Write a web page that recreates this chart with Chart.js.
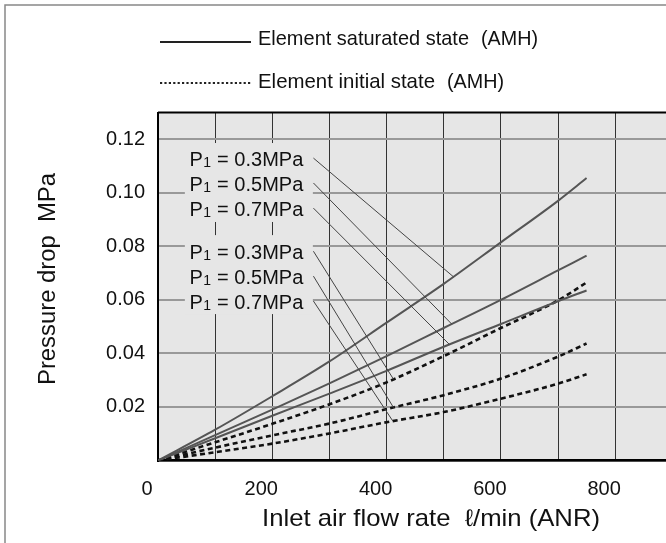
<!DOCTYPE html>
<html lang="en">
<head>
    <meta charset="UTF-8">
    <title>Pressure drop vs inlet air flow rate</title>
    <script src="https://cdn.jsdelivr.net/npm/chart.js"></script>
    <style>
        body { margin: 0; background: #fff; }
        #wrap { width: 666px; height: 543px; position: relative; }
    </style>
</head>
<body>
    <div id="wrap"><canvas id="pdChart"></canvas></div>

    <script>
        // flow rate l/min (ANR) and pressure drop MPa
        const flow = [0, 100, 200, 300, 400, 500, 600, 700, 750];
        const satP03 = [0, 0.0115, 0.024, 0.037, 0.0515, 0.066, 0.0815, 0.097, 0.1055];
        const satP05 = [0, 0.0095, 0.019, 0.0288, 0.039, 0.0495, 0.060, 0.071, 0.0765];
        const satP07 = [0, 0.0083, 0.0167, 0.025, 0.0335, 0.0425, 0.051, 0.0595, 0.0635];
        const iniP03 = [0, 0.0068, 0.0137, 0.021, 0.0292, 0.039, 0.0495, 0.0598, 0.0665];
        const iniP05 = [0, 0.0048, 0.0094, 0.0138, 0.0192, 0.0244, 0.0306, 0.0388, 0.0437];
        const iniP07 = [0, 0.0031, 0.0063, 0.0101, 0.0143, 0.0181, 0.0231, 0.0287, 0.0322];
        const pressures = ['0.3', '0.5', '0.7'];
        const xTickLabels = [0, 200, 400, 600, 800];
        const yTickLabels = [0.02, 0.04, 0.06, 0.08, 0.10, 0.12];
        // where each leader line meets its curve (flow value)
        const satLeaderFlow = [517, 514, 510];
        const iniLeaderFlow = [412, 412, 411];

        const FONT = '"Liberation Sans", Arial, Helvetica, sans-serif';

        function valueAt(arr, fx) {
            for (let i = 1; i < flow.length; i++) {
                if (fx <= flow[i]) {
                    const t = (fx - flow[i - 1]) / (flow[i] - flow[i - 1]);
                    return arr[i - 1] + t * (arr[i] - arr[i - 1]);
                }
            }
            return arr[arr.length - 1];
        }

        function pts(arr) {
            return flow.map((x, i) => ({ x: x, y: arr[i] }));
        }

        function series(arr, dashed) {
            return {
                data: pts(arr),
                borderColor: dashed ? '#111' : '#555',
                borderWidth: dashed ? 2.6 : 2,
                borderDash: dashed ? [5, 3.5] : [],
                pointRadius: 0,
                fill: false,
                cubicInterpolationMode: 'monotone'
            };
        }

        // draw text squeezed/stretched to a given width, starting at x
        function fitText(ctx, text, x, y, width) {
            const w = ctx.measureText(text).width;
            ctx.save();
            ctx.translate(x, y);
            ctx.scale(width / w, 1);
            ctx.textAlign = 'left';
            ctx.fillText(text, 0, 0);
            ctx.restore();
        }

        function drawPLabel(ctx, x, y, p) {
            ctx.fillStyle = '#111';
            ctx.textBaseline = 'alphabetic';
            ctx.textAlign = 'left';
            ctx.font = '20px ' + FONT;
            ctx.fillText('P', x, y);
            let w = ctx.measureText('P').width;
            ctx.font = '14px ' + FONT;
            ctx.fillText('1', x + w + 0.5, y + 1);
            w += ctx.measureText('1').width + 1;
            ctx.font = '20px ' + FONT;
            ctx.fillText(' = ' + p + 'MPa', x + w, y);
        }

        const decor = {
            id: 'decor',
            beforeDraw(chart) {
                const { ctx, chartArea: a } = chart;
                ctx.save();
                ctx.fillStyle = '#fff';
                ctx.fillRect(0, 0, chart.width, chart.height);
                ctx.fillStyle = '#e6e6e6';
                ctx.fillRect(a.left, a.top, a.right - a.left, a.bottom - a.top);
                // outer frame
                ctx.strokeStyle = '#888';
                ctx.lineWidth = 1.5;
                ctx.beginPath();
                ctx.moveTo(5, chart.height);
                ctx.lineTo(5, 5);
                ctx.lineTo(chart.width, 5);
                ctx.stroke();
                ctx.restore();
            },
            beforeDatasetsDraw(chart) {
                // boxes behind the pressure labels hide the grid
                const { ctx, scales: { x, y } } = chart;
                ctx.save();
                ctx.fillStyle = '#e6e6e6';
                const x0 = x.getPixelForValue(47), x1 = x.getPixelForValue(271);
                [[0.1186, 0.0891], [0.0842, 0.0547]].forEach(b => {
                    const y0 = y.getPixelForValue(b[0]), y1 = y.getPixelForValue(b[1]);
                    ctx.fillRect(x0, y0, x1 - x0, y1 - y0);
                });
                ctx.restore();
            },
            afterDatasetsDraw(chart) {
                const { ctx, scales: { x, y } } = chart;
                ctx.save();
                // leader lines
                ctx.strokeStyle = '#444';
                ctx.lineWidth = 1;
                const startX = x.getPixelForValue(272);
                const satY = [0.1126, 0.1033, 0.0939];
                const iniY = [0.0778, 0.0685, 0.0592];
                const satArr = [satP03, satP05, satP07];
                const iniArr = [iniP03, iniP05, iniP07];
                for (let i = 0; i < 3; i++) {
                    ctx.beginPath();
                    ctx.moveTo(startX, y.getPixelForValue(satY[i]) - 1);
                    ctx.lineTo(x.getPixelForValue(satLeaderFlow[i]), y.getPixelForValue(valueAt(satArr[i], satLeaderFlow[i])));
                    ctx.stroke();
                    ctx.beginPath();
                    ctx.moveTo(startX, y.getPixelForValue(iniY[i]) - 1);
                    ctx.lineTo(x.getPixelForValue(iniLeaderFlow[i]), y.getPixelForValue(valueAt(iniArr[i], iniLeaderFlow[i])));
                    ctx.stroke();
                }
                // pressure labels
                const lx = x.getPixelForValue(55);
                for (let i = 0; i < 3; i++) {
                    drawPLabel(ctx, lx, y.getPixelForValue(satY[i]) + 7, pressures[i]);
                    drawPLabel(ctx, lx, y.getPixelForValue(iniY[i]) + 7, pressures[i]);
                }
                ctx.restore();
            },
            afterDraw(chart) {
                const { ctx, chartArea: a } = chart;
                ctx.save();
                // top edge of plot
                ctx.strokeStyle = '#000';
                ctx.lineWidth = 2;
                ctx.beginPath();
                ctx.moveTo(a.left, a.top);
                ctx.lineTo(a.right, a.top);
                ctx.stroke();

                // legend
                ctx.strokeStyle = '#222';
                ctx.lineWidth = 2;
                ctx.beginPath();
                ctx.moveTo(160, 42);
                ctx.lineTo(251, 42);
                ctx.stroke();
                ctx.setLineDash([2.2, 2.2]);
                ctx.beginPath();
                ctx.moveTo(160, 83);
                ctx.lineTo(251, 83);
                ctx.stroke();
                ctx.setLineDash([]);
                ctx.fillStyle = '#111';
                ctx.font = '21px ' + FONT;
                ctx.textBaseline = 'middle';
                fitText(ctx, 'Element saturated state', 258, 39, 211);
                fitText(ctx, '(AMH)', 481, 39, 57);
                fitText(ctx, 'Element initial state', 258, 82, 177);
                fitText(ctx, '(AMH)', 447, 82, 57);

                // axis titles
                ctx.font = '24px ' + FONT;
                fitText(ctx, 'Inlet air flow rate  \u2113/min (ANR)', 262, 519, 338);
                ctx.translate(49, 385);
                ctx.rotate(-Math.PI / 2);
                ctx.font = '23px ' + FONT;
                fitText(ctx, 'Pressure drop  MPa', 0, 0, 212);
                ctx.restore();
            }
        };

        new Chart(document.getElementById('pdChart'), {
            type: 'line',
            data: {
                datasets: [
                    series(satP03, false), series(satP05, false), series(satP07, false),
                    series(iniP03, true), series(iniP05, true), series(iniP07, true)
                ]
            },
            options: {
                responsive: true,
                maintainAspectRatio: false,
                animation: false,
                layout: { padding: { top: 112.5, right: 0, left: 0, bottom: 0 } },
                plugins: { legend: { display: false }, tooltip: { enabled: false } },
                scales: {
                    x: {
                        type: 'linear',
                        min: 0,
                        max: 889,
                        afterFit(scale) { scale.height = 82.5; },
                        border: { display: true, color: '#000', width: 2.5 },
                        grid: { color: '#333', lineWidth: 1, drawTicks: false },
                        ticks: {
                            stepSize: 100,
                            includeBounds: false,
                            padding: 17,
                            labelOffset: -11,
                            color: '#111',
                            font: { family: FONT, size: 20 },
                            callback: v => xTickLabels.includes(v) ? String(v) : ''
                        }
                    },
                    y: {
                        min: 0,
                        max: 0.13,
                        afterFit(scale) { scale.width = 158; },
                        border: { display: true, color: '#000', width: 2 },
                        grid: { color: '#999', lineWidth: 2, drawTicks: false },
                        ticks: {
                            stepSize: 0.01,
                            padding: 13,
                            color: '#111',
                            font: { family: FONT, size: 20 },
                            callback: v => {
                                const r = Math.round(v * 100) / 100;
                                return yTickLabels.some(t => Math.abs(t - r) < 1e-9) ? r.toFixed(2) : '';
                            }
                        }
                    }
                }
            },
            plugins: [decor]
        });
    </script>
</body>
</html>
